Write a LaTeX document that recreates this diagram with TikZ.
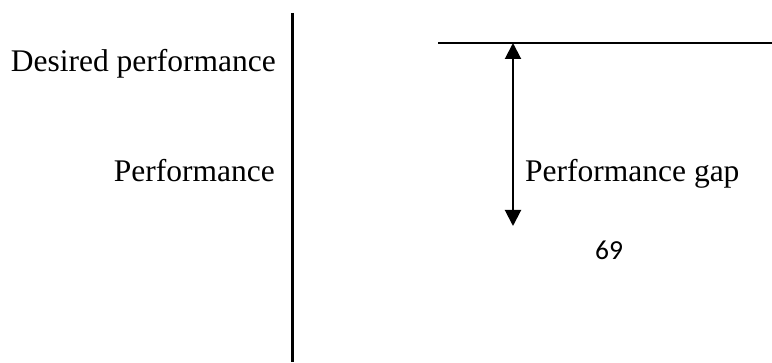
\documentclass[tikz,border=0pt]{standalone}
\usepackage{fontspec}
\setmainfont{Liberation Serif}
\newfontfamily\pagefont{Carlito}
\usetikzlibrary{arrows.meta}

\begin{document}
\begin{tikzpicture}[x=1pt,y=1pt]
	%
	% `textlabel' is used for the serif texts.
	% `pagenum' is used for the page number.
	% `gaparrow' is used for the double arrow.
	\tikzstyle{textlabel} = [inner sep=0pt,font=\fontsize{31.5}{38}\selectfont]
	\tikzstyle{pagenum} = [inner sep=0pt,font=\pagefont\fontsize{27.5}{33}\selectfont]
	\tikzstyle{gaparrow} = [line width=2pt,{Triangle[width=16pt,length=16pt]}-{Triangle[width=16pt,length=16pt]}]
	\useasboundingbox (0,0) rectangle (772,362);
	%
	% Divider
	\coordinate (divtop) at (292,349);
	\coordinate (divbot) at (292,0);
	\draw[line width=3pt] (divtop) -- (divbot);
	%
	% Left column
	\node[textlabel,anchor=base east] (desired) at (276,290) {Desired performance};
	\node[textlabel,anchor=base east] (perf) at (275,180) {Performance};
	%
	% Desired level
	\coordinate (levelleft) at (438,319);
	\coordinate (levelright) at (772,319);
	\draw[line width=2pt] (levelleft) -- (levelright);
	%
	% Gap
	\coordinate (gaptop) at (513,319);
	\coordinate (gapbot) at (513,136);
	\draw[gaparrow] (gaptop) -- (gapbot);
	\node[textlabel,anchor=base west] (gap) at (525,180) {Performance gap};
	%
	% Page number
	\node[pagenum,anchor=base west] (page) at (595,102) {69};
	%
\end{tikzpicture}
\end{document}
